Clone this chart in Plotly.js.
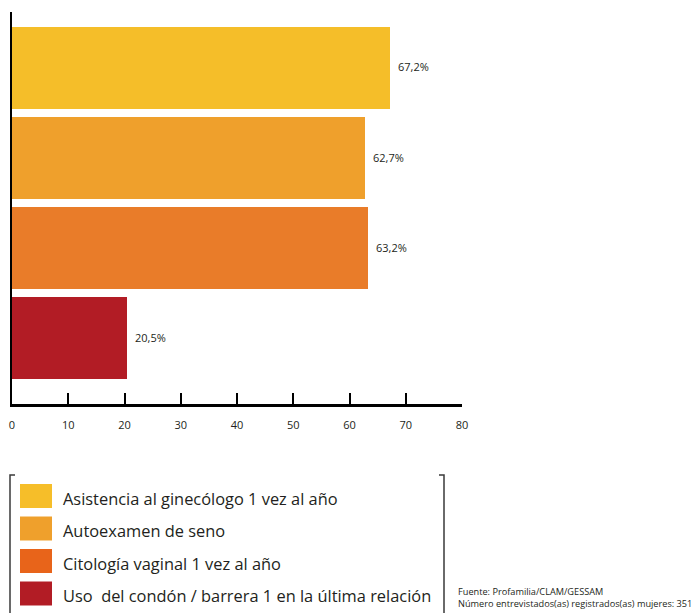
<!DOCTYPE html>
<html>
<head>
<meta charset="utf-8">
<script src="https://cdn.plot.ly/plotly-3.0.1.min.js"></script>
<style>html,body{margin:0;padding:0;background:#fff;}#chart{width:699px;height:613px;}</style>
</head>
<body>
<div id="chart"></div>
<script>
const categories = [
  "Asistencia al ginecólogo 1 vez al año",
  "Autoexamen de seno",
  "Citología vaginal 1 vez al año",
  "Uso  del condón / barrera 1 en la última relación"
];
const values = [67.2, 62.7, 63.2, 20.5];
const barColors = ["#F5BE29", "#EFA02C", "#E97C29", "#B21C25"];
const legendColors = ["#F6BE29", "#EFA02C", "#E8641A", "#B21C25"];
const tickValues = [0, 10, 20, 30, 40, 50, 60, 70, 80];
const sourceLines = [
  "Fuente: Profamilia/CLAM/GESSAM",
  "Número entrevistados(as) registrados(as) mujeres: 351"
];

const FONT = "Open Sans, Noto Sans, sans-serif";
const labels = values.map(v => v.toFixed(1).replace('.', ',') + '%');

const trace = {
  type: 'bar',
  orientation: 'h',
  x: values,
  y: categories,
  width: 0.911,
  marker: {color: barColors, line: {width: 0}},
  hoverinfo: 'none',
  showlegend: false
};

const annotations = values.map((v, i) => ({
  x: v, y: categories[i], xref: 'x', yref: 'y',
  text: labels[i], showarrow: false, xanchor: 'left', yanchor: 'middle',
  xshift: 6, yshift: 1, font: {family: FONT, size: 11, color: '#231F20'}
}));

const W = 699, H = 613;
const ml = 12, mr = 237, mt = 12, mb = 209;
const pw = W - ml - mr, ph = H - mt - mb;
const paperX = x => (x - ml) / pw;
const paperY = y => (H - mb - y) / ph;

const shapes = [];
const rowTop = [484, 516.5, 549, 581.5];
categories.forEach((c, i) => {
  shapes.push({type: 'rect', xref: 'paper', yref: 'paper',
    x0: paperX(20), x1: paperX(52), y0: paperY(rowTop[i]), y1: paperY(rowTop[i] + 24),
    fillcolor: legendColors[i], line: {width: 0}});
  annotations.push({xref: 'paper', yref: 'paper', x: paperX(61), y: paperY(rowTop[i] + 14),
    text: c, showarrow: false, xanchor: 'left', yanchor: 'middle',
    font: {family: FONT, size: 16.4, color: '#231F20'}});
});
shapes.push({type: 'path', xref: 'paper', yref: 'paper',
  path: `M ${paperX(15)} ${paperY(475)} L ${paperX(10)} ${paperY(475)} L ${paperX(10)} ${paperY(615)}`,
  line: {color: '#3a3a3a', width: 1.5}});
shapes.push({type: 'path', xref: 'paper', yref: 'paper',
  path: `M ${paperX(439)} ${paperY(475)} L ${paperX(444)} ${paperY(475)} L ${paperX(444)} ${paperY(615)}`,
  line: {color: '#3a3a3a', width: 1.5}});

sourceLines.forEach((t, i) => {
  annotations.push({xref: 'paper', yref: 'paper', x: paperX(456), y: paperY(591 + i * 12.5),
    text: t, showarrow: false, xanchor: 'left', yanchor: 'middle',
    font: {family: FONT, size: 9.2, color: '#231F20'}});
});

const layout = {
  width: W, height: H,
  margin: {l: ml, r: mr, t: mt, b: mb, pad: 0},
  paper_bgcolor: '#fff', plot_bgcolor: '#fff',
  font: {family: FONT, color: '#231F20'},
  bargap: 0,
  xaxis: {
    range: [0, 80], tickvals: tickValues, ticktext: tickValues.map(String),
    ticks: 'inside', ticklen: 11, tickwidth: 2, tickcolor: '#000',
    showline: true, linewidth: 2.5, linecolor: '#000',
    showgrid: false, zeroline: false, fixedrange: true,
    tickfont: {family: FONT, size: 11, color: '#231F20'},
    ticklabelstandoff: 9
  },
  yaxis: {
    type: 'category', categoryorder: 'array', categoryarray: categories,
    range: [3.733, -0.622],
    showline: true, linewidth: 2.5, linecolor: '#000',
    showticklabels: false, ticks: '', showgrid: false, zeroline: false, fixedrange: true
  },
  shapes: shapes,
  annotations: annotations,
  showlegend: false
};

Plotly.newPlot('chart', [trace], layout, {displayModeBar: false, staticPlot: true});
</script>
</body>
</html>
